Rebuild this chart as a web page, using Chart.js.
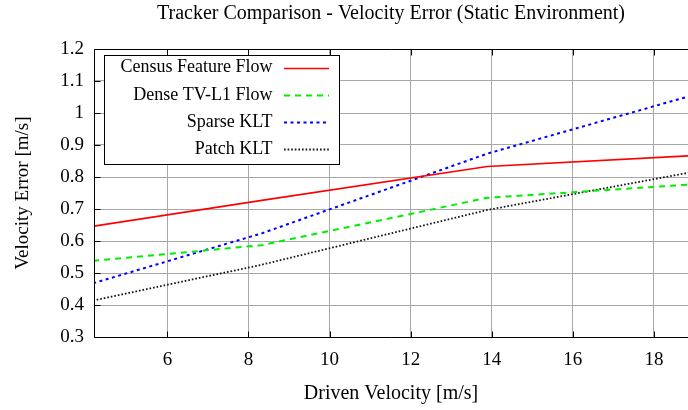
<!DOCTYPE html>
<html>
<head>
<meta charset="utf-8">
<script src="https://cdn.jsdelivr.net/npm/chart.js@4"></script>
<style>
  html, body { margin: 0; padding: 0; background: #fff; overflow: hidden; }
  #wrap { width: 688px; height: 410px; position: relative; }
</style>
</head>
<body>
<div id="wrap"><canvas id="chart"></canvas></div>
<script>
// Driven velocity of each test run [m/s]
const drivenVelocity = [4.17, 8.33, 13.89, 19.44];

// Mean velocity error per tracker [m/s]
const censusFeatureFlow = [0.646, 0.727, 0.833, 0.870];
const denseTvL1Flow     = [0.538, 0.587, 0.735, 0.781];
const sparseKlt         = [0.468, 0.624, 0.873, 1.073];
const patchKlt          = [0.414, 0.526, 0.697, 0.827];

const seriesNames = ['Census Feature Flow', 'Dense TV-L1 Flow', 'Sparse KLT', 'Patch KLT'];

// Axis ticks
const xTickValues = [6, 8, 10, 12, 14, 16, 18];
const yTickValues = [0.3, 0.4, 0.5, 0.6, 0.7, 0.8, 0.9, 1.0, 1.1, 1.2];

const SERIF = '"Liberation Serif", "Times New Roman", serif';

function pairs(ys) {
  return drivenVelocity.map((x, i) => ({ x: x, y: ys[i] }));
}

const styles = [
  { color: '#ff0000', dash: [],       width: 1.6 },
  { color: '#00ee00', dash: [6, 5],   width: 2 },
  { color: '#0000ff', dash: [3, 3.5], width: 2 },
  { color: '#111111', dash: [1.6, 2], width: 1.8 }
];
const values = [censusFeatureFlow, denseTvL1Flow, sparseKlt, patchKlt];

const datasets = values.map((ys, i) => ({
  label: seriesNames[i],
  data: pairs(ys),
  borderColor: styles[i].color,
  borderDash: styles[i].dash,
  borderWidth: styles[i].width,
  pointRadius: 0,
  tension: 0,
  fill: false
}));

// Plot frame with inward tick marks (left, top and bottom edges)
const framePlugin = {
  id: 'frame',
  afterDatasetsDraw(chart) {
    const { ctx, chartArea, scales } = chart;
    const l = Math.round(chartArea.left) + 0.5;
    const t = Math.round(chartArea.top) + 0.5;
    const b = Math.round(chartArea.bottom) + 0.5;
    const r = chartArea.right + 2;
    ctx.save();
    ctx.strokeStyle = '#000';
    ctx.lineWidth = 1;
    ctx.setLineDash([]);
    ctx.beginPath();
    ctx.moveTo(r, t); ctx.lineTo(l, t); ctx.lineTo(l, b); ctx.lineTo(r, b);
    xTickValues.forEach(v => {
      const px = Math.round(scales.x.getPixelForValue(v)) + 0.5;
      ctx.moveTo(px, b); ctx.lineTo(px, b - 6);
      ctx.moveTo(px, t); ctx.lineTo(px, t + 6);
    });
    yTickValues.forEach(v => {
      const py = Math.round(scales.y.getPixelForValue(v)) + 0.5;
      ctx.moveTo(l, py); ctx.lineTo(l + 6, py);
    });
    ctx.stroke();
    ctx.restore();
  }
};

// Boxed key: right-justified labels followed by line samples
const keyPlugin = {
  id: 'keyBox',
  afterDraw(chart) {
    const { ctx } = chart;
    const bx = 104.5, by = 55.5, bw = 235, bh = 109;
    ctx.save();
    ctx.fillStyle = '#fff';
    ctx.fillRect(bx, by, bw, bh);
    ctx.strokeStyle = '#000';
    ctx.lineWidth = 1;
    ctx.setLineDash([]);
    ctx.strokeRect(bx, by, bw, bh);
    ctx.font = '18px ' + SERIF;
    ctx.textAlign = 'right';
    ctx.textBaseline = 'middle';
    chart.data.datasets.forEach((ds, i) => {
      const cy = 67.5 + i * 27.3;
      ctx.fillStyle = '#000';
      ctx.fillText(ds.label, 272.5, cy);
      ctx.strokeStyle = ds.borderColor;
      ctx.lineWidth = ds.borderWidth;
      ctx.setLineDash(ds.borderDash);
      ctx.beginPath();
      ctx.moveTo(284, Math.round(cy) + 0.5);
      ctx.lineTo(329, Math.round(cy) + 0.5);
      ctx.stroke();
    });
    ctx.restore();
  }
};

new Chart(document.getElementById('chart'), {
  type: 'line',
  data: { datasets: datasets },
  options: {
    responsive: true,
    maintainAspectRatio: false,
    devicePixelRatio: 1,
    animation: false,
    layout: { padding: { left: 0, right: 0, top: 0, bottom: 0 } },
    plugins: {
      legend: { display: false },
      tooltip: { enabled: false },
      title: {
        display: true,
        fullSize: false,
        text: 'Tracker Comparison - Velocity Error (Static Environment)',
        color: '#000',
        font: { family: SERIF, size: 20, weight: 'normal' },
        padding: { top: 2, bottom: 23 }
      }
    },
    scales: {
      x: {
        type: 'linear',
        min: 4.19,
        max: 18.84,
        afterBuildTicks: s => { s.ticks = xTickValues.map(v => ({ value: v })); },
        afterFit: s => { s.height = 73; },
        grid: { color: '#a8a8a8', lineWidth: 1, drawTicks: false },
        border: { display: false },
        ticks: {
          color: '#000',
          font: { family: SERIF, size: 19 },
          padding: 12,
          maxRotation: 0,
          callback: v => String(v)
        },
        title: {
          display: true,
          text: 'Driven Velocity [m/s]',
          color: '#000',
          font: { family: SERIF, size: 20 },
          padding: { top: 0, bottom: 4 }
        }
      },
      y: {
        type: 'linear',
        min: 0.3,
        max: 1.2,
        afterBuildTicks: s => { s.ticks = yTickValues.map(v => ({ value: v })); },
        afterFit: s => { s.width = 94; },
        grid: { color: '#a8a8a8', lineWidth: 1, drawTicks: false },
        border: { display: false },
        ticks: {
          color: '#000',
          font: { family: SERIF, size: 19 },
          padding: 10,
          callback: v => String(+Number(v).toFixed(1))
        },
        title: {
          display: true,
          text: 'Velocity Error [m/s]',
          color: '#000',
          font: { family: SERIF, size: 19 },
          padding: { top: 12, bottom: 0 }
        }
      }
    }
  },
  plugins: [framePlugin, keyPlugin]
});
</script>
</body>
</html>
